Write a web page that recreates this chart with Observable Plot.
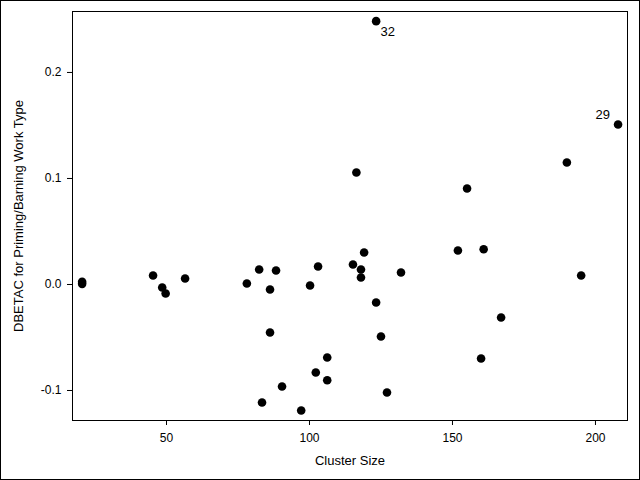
<!DOCTYPE html>
<html>
<head>
<meta charset="utf-8">
<script src="https://cdn.jsdelivr.net/npm/d3@7"></script>
<script src="https://cdn.jsdelivr.net/npm/@observablehq/plot@0.6"></script>
<style>
  html, body { margin: 0; padding: 0; background: #fff; }
  #wrap { position: relative; width: 640px; height: 480px; overflow: hidden; }
  #wrap svg { display: block; }
  #border { position: absolute; left: 0; top: 0; width: 640px; height: 480px; box-sizing: border-box; border: 1px solid #000; pointer-events: none; }
</style>
</head>
<body>
<div id="wrap"><div id="border"></div></div>
<script>
// Cluster size (x) and DBETAC for Priming/Barning Work Type (y)
const clusterSize = [20.5, 20.5, 45.3, 48.5, 49.7, 56.5, 78.1, 82.4, 86.2, 88.3,
                     86.2, 83.4, 90.4, 97.1, 100.2, 102.2, 103.0, 106.2, 106.2, 115.2,
                     118.0, 118.0, 119.1, 123.3, 125.0, 127.1, 132.0, 151.9, 160.9, 160.0,
                     167.0, 195.0, 116.4, 155.1, 190.0, 207.9, 123.3];
const dbetac = [0.0025, 0.0006, 0.0085, -0.0028, -0.0085, 0.0057, 0.0009, 0.0142, -0.0047, 0.0132,
                -0.0453, -0.1113, -0.0962, -0.1189, -0.0009, -0.0830, 0.0170, -0.0689, -0.0903, 0.0189,
                0.0142, 0.0066, 0.0302, -0.0170, -0.0490, -0.1019, 0.0113, 0.0321, 0.0333, -0.0698,
                -0.0311, 0.0085, 0.1057, 0.0906, 0.1151, 0.1509, 0.2484];
const obsLabel = ["", "", "", "", "", "", "", "", "", "",
                  "", "", "", "", "", "", "", "", "", "",
                  "", "", "", "", "", "", "", "", "", "",
                  "", "", "", "", "", "29", "32"];

const xTicks = [50, 100, 150, 200];
const yTicks = [-0.1, 0.0, 0.1, 0.2];
const xTitle = ["Cluster Size"];
const yTitle = ["DBETAC for Priming/Barning Work Type"];

const data = clusterSize.map((x, i) => ({x, y: dbetac[i], label: obsLabel[i]}));

const chart = Plot.plot({
  width: 640,
  height: 480,
  marginLeft: 72,
  marginRight: 13,
  marginTop: 11,
  marginBottom: 60,
  style: {fontFamily: "'Liberation Sans', Arial, sans-serif", fontSize: "12px", background: "white", color: "black"},
  x: {domain: [17.13, 211.2]},
  y: {domain: [-0.1283, 0.2575]},
  marks: [
    Plot.frame({stroke: "black", strokeWidth: 1}),
    Plot.axisX(xTicks, {tickSize: 5, tickPadding: 8, label: null, tickFormat: d => String(d)}),
    Plot.axisY(yTicks, {tickSize: 5, tickPadding: 6, label: null, tickFormat: d => d.toFixed(1)}),
    Plot.dot(data, {x: "x", y: "y", r: 4.3, fill: "black", stroke: "none"}),
    Plot.text(data, {filter: d => d.label === "32", x: "x", y: "y", text: "label", textAnchor: "start", dx: 4.5, dy: 11, fontSize: 13, fill: "black"}),
    Plot.text(data, {filter: d => d.label === "29", x: "x", y: "y", text: "label", textAnchor: "end", dx: -8, dy: -10, fontSize: 13, fill: "black"}),
    Plot.text(xTitle, {frameAnchor: "bottom", text: d => d, textAnchor: "middle", lineAnchor: "bottom", dy: 44, fontSize: 13, fill: "black"}),
    Plot.text(yTitle, {frameAnchor: "left", text: d => d, textAnchor: "middle", rotate: -90, lineAnchor: "top", dx: -59, fontSize: 13, fill: "black"})
  ]
});
document.getElementById("wrap").insertBefore(chart, document.getElementById("border"));
</script>
</body>
</html>
